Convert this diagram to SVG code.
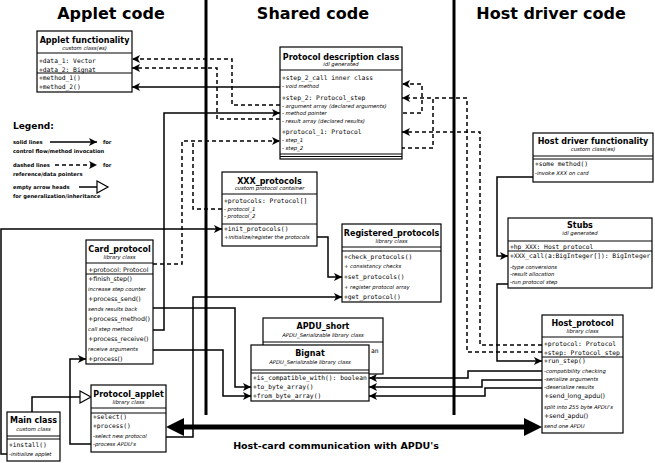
<svg xmlns="http://www.w3.org/2000/svg" width="655" height="463" viewBox="0 0 655 463">
<defs>
<style>
.box{fill:#fff;stroke:#000;stroke-width:1.2}
.sep{stroke:#000;stroke-width:1}
.h{font-family:"DejaVu Sans",sans-serif;font-weight:bold;font-size:16px;text-anchor:middle}
.t{font-family:"DejaVu Sans",sans-serif;font-weight:bold;font-size:8px;text-anchor:middle}
.s{font-family:"DejaVu Sans",sans-serif;font-style:italic;font-size:5.3px;text-anchor:middle}
.m{font-family:"DejaVu Sans Mono",monospace;font-size:6.3px}
.p{font-family:"DejaVu Sans",sans-serif;font-size:6.3px}
.i{font-family:"DejaVu Sans",sans-serif;font-style:italic;font-size:5.3px}
.lg{font-family:"DejaVu Sans",sans-serif;font-weight:bold;font-size:5.2px}
.c{fill:none;stroke:#000;stroke-width:1.5}
.d{fill:none;stroke:#000;stroke-width:1.5;stroke-dasharray:4,3}
</style>
<marker id="a" markerUnits="userSpaceOnUse" markerWidth="9" markerHeight="8" refX="8" refY="4" orient="auto">
<path d="M0,0 L8,4 L0,8 L2,4 z" fill="#000"/>
</marker>
</defs>

<g id="titles">
<text class="h" x="111" y="19">Applet code</text>
<text class="h" x="313" y="19">Shared code</text>
<text class="h" x="551" y="19">Host driver code</text>
</g>

<g id="dividers">
<line x1="206" y1="0" x2="206" y2="415" stroke="#000" stroke-width="3"/>
<line x1="454" y1="0" x2="454" y2="415" stroke="#000" stroke-width="3"/>
</g>

<g id="legend">
<text x="13" y="129" font-family="DejaVu Sans,sans-serif" font-weight="bold" font-size="9">Legend:</text>
<text class="lg" x="13" y="144">solid lines</text>
<line x1="50" y1="142" x2="97" y2="142" class="c" marker-end="url(#a)"/>
<text class="lg" x="103" y="144">for</text>
<text class="lg" x="13" y="153">control flow/method invocation</text>
<text class="lg" x="13" y="167">dashed lines</text>
<line x1="55" y1="165" x2="97" y2="165" class="d" marker-end="url(#a)"/>
<text class="lg" x="103" y="167">for</text>
<text class="lg" x="13" y="176">reference/data pointers</text>
<text class="lg" x="13" y="189">empty arrow heads</text>
<line x1="79" y1="187" x2="97" y2="187" class="c"/>
<polygon points="97,181 108,187 97,193" fill="#fff" stroke="#000" stroke-width="1.2"/>
<text class="lg" x="13" y="198">for generalization/inheritance</text>
</g>

<g id="connectors">
<path class="c" d="M280,87 H132" marker-end="url(#a)"/>
<path class="d" d="M280,105 H232 V59 H132" marker-end="url(#a)"/>
<path class="d" d="M280,119 H217 V68 H132" marker-end="url(#a)"/>
<path class="c" d="M153,330 H164 V113 H280" marker-end="url(#a)"/>
<path class="d" d="M153,264 H182 V141 H280" marker-end="url(#a)"/>
<path class="d" d="M222,209 H193 V141"/>
<path class="d" d="M312,113 H422 V84 H402" marker-end="url(#a)"/>
<path class="d" d="M310,148 H433 V98 H402" marker-end="url(#a)"/>
<path class="d" d="M542,352 H467 V98 H433"/>
<path class="d" d="M542,345 H480 V132 H402" marker-end="url(#a)"/>
<path class="c" d="M7,454 H1 V229 H222" marker-end="url(#a)"/>
<path class="c" d="M317,237 H328 V277 H342" marker-end="url(#a)"/>
<path class="c" d="M166,437 H193 V297 H342" marker-end="url(#a)"/>
<path class="c" d="M91,444 H70 V359 H86" marker-end="url(#a)"/>
<path class="c" d="M32,412 V397 H80"/>
<polygon points="80,391 91,397 80,403" fill="#fff" stroke="#000" stroke-width="1.2"/>
<path class="c" d="M153,308 H235 V387 H251" marker-end="url(#a)"/>
<path class="c" d="M153,350 H223 V396 H251" marker-end="url(#a)"/>
<path class="c" d="M542,371 H468 V378 H369" marker-end="url(#a)"/>
<path class="c" d="M542,380 H482 V387 H369" marker-end="url(#a)"/>
<path class="c" d="M542,388 H485 V396 H369" marker-end="url(#a)"/>
<path class="c" d="M533,177 H497 V256 H508" marker-end="url(#a)"/>
<path class="c" d="M508,284 H497 V361 H542" marker-end="url(#a)"/>
<rect x="182" y="424.5" width="344" height="5" fill="#000"/>
<polygon points="166,427 184,418 184,436" fill="#000"/>
<polygon points="542,427 524,418 524,436" fill="#000"/>
<text x="336" y="449" font-family="DejaVu Sans,sans-serif" font-weight="bold" font-size="9.5" text-anchor="middle">Host-card communication with APDU's</text>
</g>

<g id="applet_functionality">
<rect class="box" x="37" y="31" width="95" height="61"/>
<text class="t" x="84.5" y="43">Applet functionality</text>
<text class="s" x="84.5" y="50">custom class(es)</text>
<line class="sep" x1="37" y1="53" x2="132" y2="53"/>
<text class="m" x="39" y="63">+data_1: Vector</text>
<text class="m" x="39" y="72">+data_2: Bignat</text>
<line class="sep" x1="37" y1="73" x2="132" y2="73"/>
<text class="m" x="39" y="80">+method_1()</text>
<text class="m" x="39" y="89">+method_2()</text>
</g>

<g id="protocol_description">
<rect class="box" x="280" y="47" width="122" height="112"/>
<text class="t" x="341" y="60">Protocol description class</text>
<text class="s" x="341" y="66">idl generated</text>
<line class="sep" x1="280" y1="70" x2="402" y2="70"/>
<text class="m" x="282" y="80">+step_2_call inner class</text>
<text class="i" x="282" y="88">- void method</text>
<text class="m" x="282" y="100">+step_2: Protocol_step</text>
<text class="i" x="282" y="108">- argument array (declared arguments)</text>
<text class="i" x="282" y="115">- method pointer</text>
<text class="i" x="282" y="123">- result array (declared results)</text>
<text class="m" x="282" y="134">+protocol_1: Protocol</text>
<text class="i" x="282" y="142">- step_1</text>
<text class="i" x="282" y="150">- step_2</text>
<line class="sep" x1="280" y1="154" x2="402" y2="154"/>
<line class="sep" x1="280" y1="156.5" x2="402" y2="156.5"/>
</g>

<g id="xxx_protocols">
<rect class="box" x="222" y="172" width="95" height="74"/>
<text class="t" x="269.5" y="184">XXX_protocols</text>
<text class="s" x="269.5" y="190">custom protocol container</text>
<line class="sep" x1="222" y1="194" x2="317" y2="194"/>
<text class="m" x="224" y="203">+protocols: Protocol[]</text>
<text class="i" x="224" y="211">- protocol_1</text>
<text class="i" x="224" y="218">- protocol_2</text>
<line class="sep" x1="222" y1="224" x2="317" y2="224"/>
<text class="m" x="224" y="231">+init_protocols()</text>
<text class="i" x="224" y="239">+initialize/register the protocols</text>
</g>

<g id="registered_protocols">
<rect class="box" x="342" y="224" width="99" height="78"/>
<text class="t" x="391.5" y="236">Registered_protocols</text>
<text class="s" x="391.5" y="243">library class</text>
<line class="sep" x1="342" y1="247" x2="441" y2="247"/>
<line class="sep" x1="342" y1="251" x2="441" y2="251"/>
<text class="m" x="344" y="259">+check_protocols()</text>
<text class="i" x="344" y="268">+ consistancy checks</text>
<text class="m" x="344" y="279">+set_protocols()</text>
<text class="i" x="344" y="289">+ register protocol array</text>
<text class="m" x="344" y="299">+get_protocol()</text>
</g>

<g id="card_protocol">
<rect class="box" x="86" y="240" width="67" height="124"/>
<text class="t" x="119.5" y="252">Card_protocol</text>
<text class="s" x="119.5" y="259">library class</text>
<line class="sep" x1="86" y1="263" x2="153" y2="263"/>
<text class="p" x="88" y="272">+protocol: Protocol</text>
<line class="sep" x1="86" y1="274" x2="153" y2="274"/>
<text class="p" x="88" y="281">+finish_step()</text>
<text class="i" x="88" y="291">increase step counter</text>
<text class="p" x="88" y="301">+process_send()</text>
<text class="i" x="88" y="311">sends results back</text>
<text class="p" x="88" y="321">+process_method()</text>
<text class="i" x="88" y="331">call step method</text>
<text class="p" x="88" y="341">+process_receive()</text>
<text class="i" x="88" y="351">receive arguments</text>
<text class="p" x="88" y="361">+process()</text>
</g>

<g id="apdu_short">
<rect class="box" x="263" y="318" width="120" height="56"/>
<text class="t" x="323" y="329">APDU_short</text>
<text class="s" x="323" y="337">APDU_Serializable library class</text>
<line class="sep" x1="263" y1="342" x2="383" y2="342"/>
<text class="m" x="371" y="353">an</text>
</g>

<g id="bignat">
<rect class="box" x="251" y="345" width="118" height="56"/>
<text class="t" x="310" y="356">Bignat</text>
<text class="s" x="310" y="364">APDU_Serializable library class</text>
<line class="sep" x1="251" y1="370" x2="369" y2="370"/>
<line class="sep" x1="251" y1="373" x2="369" y2="373"/>
<text class="m" x="253" y="380">+is_compatible_with(): boolean</text>
<text class="m" x="253" y="389">+to_byte_array()</text>
<text class="m" x="253" y="398">+from_byte_array()</text>
</g>

<g id="host_driver_functionality">
<rect class="box" x="533" y="133" width="120" height="49"/>
<text class="t" x="593" y="144">Host driver functionality</text>
<text class="s" x="593" y="151">custom class(es)</text>
<line class="sep" x1="533" y1="156" x2="653" y2="156"/>
<line class="sep" x1="533" y1="159" x2="653" y2="159"/>
<text class="m" x="535" y="166">+some method()</text>
<text class="i" x="535" y="175">-invoke XXX on card</text>
</g>

<g id="stubs">
<rect class="box" x="508" y="218" width="144" height="70"/>
<text class="t" x="580" y="228">Stubs</text>
<text class="s" x="580" y="235">idl generated</text>
<line class="sep" x1="508" y1="241" x2="652" y2="241"/>
<text class="m" x="510" y="249">+hp_XXX: Host_protocol</text>
<line class="sep" x1="508" y1="251" x2="652" y2="251"/>
<text class="m" x="510" y="258">+XXX_call(a:BigInteger[]): BigInteger</text>
<text class="i" x="510" y="269">-type conversions</text>
<text class="i" x="510" y="276">-result allocation</text>
<text class="i" x="510" y="284">-run protocol step</text>
</g>

<g id="host_protocol">
<rect class="box" x="542" y="315" width="81" height="118"/>
<text class="t" x="582.5" y="326">Host_protocol</text>
<text class="s" x="582.5" y="333">library class</text>
<line class="sep" x1="542" y1="337" x2="623" y2="337"/>
<text class="m" x="544" y="346">+protocol: Protocol</text>
<text class="m" x="544" y="355">+step: Protocol_step</text>
<line class="sep" x1="542" y1="357" x2="623" y2="357"/>
<text class="m" x="544" y="363">+run_step()</text>
<text class="i" x="544" y="373">-compatibility checking</text>
<text class="i" x="544" y="381">-serialize arguments</text>
<text class="i" x="544" y="389">-deserialize results</text>
<text class="p" x="544" y="398">+send_long_apdu()</text>
<text class="i" x="544" y="409">split into 255 byte APDU's</text>
<text class="p" x="544" y="418">+send_apdu()</text>
<text class="i" x="544" y="428">send one APDU</text>
</g>

<g id="protocol_applet">
<rect class="box" x="91" y="385" width="75" height="67"/>
<text class="t" x="128.5" y="397">Protocol_applet</text>
<text class="s" x="128.5" y="404">library class</text>
<line class="sep" x1="91" y1="408" x2="166" y2="408"/>
<line class="sep" x1="91" y1="413" x2="166" y2="413"/>
<text class="m" x="93" y="419">+select()</text>
<text class="m" x="93" y="428">+process()</text>
<text class="i" x="93" y="438">-select new protocol</text>
<text class="i" x="93" y="446">-process APDU's</text>
</g>

<g id="main_class">
<rect class="box" x="7" y="412" width="53" height="49"/>
<text class="t" x="33.5" y="423">Main class</text>
<text class="s" x="33.5" y="431">custom class</text>
<line class="sep" x1="7" y1="436" x2="60" y2="436"/>
<line class="sep" x1="7" y1="439" x2="60" y2="439"/>
<text class="m" x="9" y="447">+install()</text>
<text class="i" x="9" y="456">-initialize applet</text>
</g>
</svg>
